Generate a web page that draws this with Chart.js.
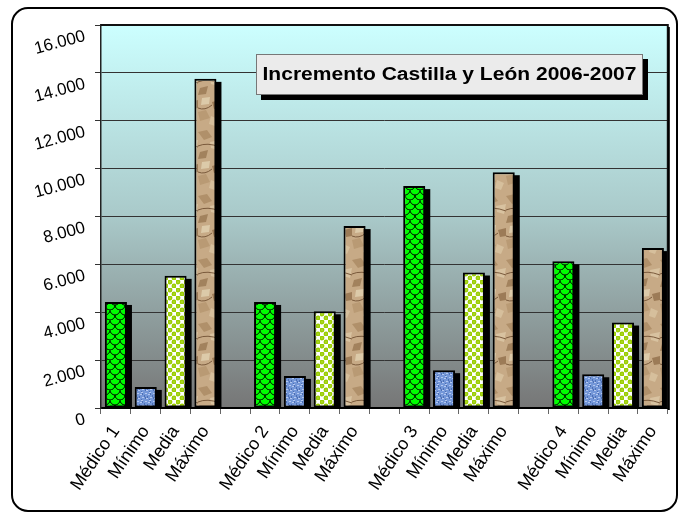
<!DOCTYPE html>
<html>
<head>
<meta charset="utf-8">
<script src="https://cdn.jsdelivr.net/npm/chart.js@4.4.1/dist/chart.umd.min.js"></script>
<style>
  html, body { margin: 0; padding: 0; background: #fff; }
  canvas { display: block; }
</style>
</head>
<body>
<canvas id="grafico" width="679" height="513"></canvas>
<script>
// datos
const medicos = ['Médico 1', 'Médico 2', 'Médico 3', 'Médico 4'];
const etiquetasSerie = ['Mínimo', 'Media', 'Máximo'];
const medico = [4430, 4430, 9270, 6130];
const minimo = [880, 1340, 1580, 1410];
const media = [5520, 4040, 5660, 3570];
const maximo = [13750, 7600, 9850, 6680];
const yTicks = [0, 2000, 4000, 6000, 8000, 10000, 12000, 14000, 16000];
const titulo = 'Incremento Castilla y León 2006-2007';

// texturas para las barras
function lienzo(w, h) {
  const c = document.createElement('canvas');
  c.width = w; c.height = h;
  return c;
}
const tmp = document.createElement('canvas').getContext('2d');

function patronMedico() {
  const c = lienzo(10, 10), g = c.getContext('2d');
  g.fillStyle = '#00ff00'; g.fillRect(0, 0, 10, 10);
  g.strokeStyle = '#000'; g.lineWidth = 1;
  g.beginPath(); g.arc(5, 0, 5, 0, Math.PI); g.stroke();
  g.beginPath(); g.arc(0, 5, 5, 0, Math.PI / 2); g.stroke();
  g.beginPath(); g.arc(10, 5, 5, Math.PI / 2, Math.PI); g.stroke();
  return tmp.createPattern(c, 'repeat');
}
function patronMinimo() {
  const c = lienzo(8, 8), g = c.getContext('2d');
  g.fillStyle = '#7497d8'; g.fillRect(0, 0, 8, 8);
  g.fillStyle = '#b4c8f0';
  [[1, 1], [4, 2], [6, 5], [2, 6], [5, 0]].forEach(p => g.fillRect(p[0], p[1], 2, 1));
  g.fillStyle = '#4d6fb4';
  [[0, 3], [3, 4], [6, 1], [5, 7], [1, 5]].forEach(p => g.fillRect(p[0], p[1], 1, 2));
  return tmp.createPattern(c, 'repeat');
}
function patronMedia() {
  const c = lienzo(8, 8), g = c.getContext('2d');
  g.fillStyle = '#ffffff'; g.fillRect(0, 0, 8, 8);
  g.fillStyle = '#99cc00';
  [[2, 2], [6, 6]].forEach(p => { g.beginPath(); g.arc(p[0], p[1], 2.4, 0, Math.PI * 2); g.fill(); });
  g.fillStyle = '#d8f080';
  [[1.5, 1.5], [5.5, 5.5]].forEach(p => g.fillRect(p[0], p[1], 1, 1));
  return tmp.createPattern(c, 'repeat');
}
function patronMaximo() {
  const c = lienzo(22, 64), g = c.getContext('2d');
  g.fillStyle = '#c7aa86'; g.fillRect(0, 0, 22, 64);
  const manchas = [
    ['#b0906a', [[0, 4], [9, 2], [14, 9], [6, 12]]],
    ['#d8c2a0', [[12, 14], [22, 12], [20, 22], [13, 20]]],
    ['#a2825d', [[2, 24], [10, 22], [8, 30], [0, 31]]],
    ['#dccaa9', [[4, 34], [12, 33], [11, 40], [3, 41]]],
    ['#9c7b57', [[14, 38], [22, 36], [22, 44], [16, 45]]],
    ['#b99a74', [[0, 48], [8, 46], [12, 54], [2, 57]]],
    ['#d6bf9c', [[13, 52], [20, 55], [17, 62], [11, 60]]]
  ];
  manchas.forEach(m => {
    g.fillStyle = m[0];
    g.beginPath();
    m[1].forEach((p, k) => k ? g.lineTo(p[0], p[1]) : g.moveTo(p[0], p[1]));
    g.closePath();
    g.fill();
  });
  g.strokeStyle = '#7a5a3c'; g.lineWidth = 1;
  g.beginPath(); g.moveTo(0, 18); g.quadraticCurveTo(9, 14, 22, 19); g.stroke();
  g.beginPath(); g.moveTo(0, 44); g.quadraticCurveTo(7, 47, 14, 41); g.stroke();
  return tmp.createPattern(c, 'repeat');
}
const fondos = [patronMedico(), patronMinimo(), patronMedia(), patronMaximo()];

// etiquetas y valores (un hueco vacío entre grupos)
const labels = [];
const valores = [];
const colores = [];
medicos.forEach((m, i) => {
  const grupo = [medico[i], minimo[i], media[i], maximo[i]];
  [m].concat(etiquetasSerie).forEach((lab, k) => {
    labels.push(lab);
    valores.push(grupo[k]);
    colores.push(fondos[k]);
  });
  if (i < medicos.length - 1) {
    labels.push('');
    valores.push(null);
    colores.push('transparent');
  }
});

const fondoGrafico = {
  id: 'fondoGrafico',
  beforeDraw(chart) {
    const { ctx, chartArea: a } = chart;
    const grad = ctx.createLinearGradient(0, a.top, 0, a.bottom);
    grad.addColorStop(0, '#ccffff');
    grad.addColorStop(0.5, '#a9c9c9');
    grad.addColorStop(1, '#767676');
    ctx.save();
    ctx.fillStyle = grad;
    ctx.fillRect(a.left, a.top, a.right - a.left, a.bottom - a.top);
    ctx.restore();
  },
  beforeDatasetsDraw(chart) {
    // sombra negra desplazada de cada barra
    const { ctx, chartArea: a } = chart;
    ctx.save();
    ctx.beginPath();
    ctx.rect(a.left, a.top, a.right - a.left, a.bottom - a.top);
    ctx.clip();
    ctx.fillStyle = '#000';
    chart.getDatasetMeta(0).data.forEach((bar, i) => {
      if (valores[i] == null) return;
      const p = bar.getProps(['x', 'y', 'base', 'width'], true);
      ctx.fillRect(p.x - p.width / 2 + 5, p.y + 3, p.width, p.base - p.y - 3);
    });
    ctx.restore();
  },
  afterDatasetsDraw(chart) {
    const { ctx, chartArea: a } = chart;
    ctx.save();
    ctx.strokeStyle = '#111';
    ctx.lineWidth = 2;
    ctx.beginPath();
    ctx.moveTo(a.left, a.top);
    ctx.lineTo(a.right, a.top);
    ctx.lineTo(a.right, a.bottom);
    ctx.stroke();
    ctx.fillStyle = '#000';
    ctx.fillRect(a.right, a.top + 2, 2, a.bottom - a.top);
    ctx.restore();
  },
  afterDraw(chart) {
    const ctx = chart.ctx;
    ctx.save();
    // recuadro del título
    const x = 256, y = 54, w = 387, h = 41;
    ctx.fillStyle = '#000';
    ctx.fillRect(x + 5, y + 5, w, h);
    ctx.fillStyle = '#ebebeb';
    ctx.fillRect(x, y, w, h);
    ctx.strokeStyle = '#777';
    ctx.lineWidth = 1;
    ctx.strokeRect(x + 0.5, y + 0.5, w - 1, h - 1);
    ctx.font = 'bold 17.5px "Liberation Sans", Arial, sans-serif';
    ctx.fillStyle = '#000';
    ctx.textBaseline = 'middle';
    const tw = ctx.measureText(titulo).width;
    ctx.translate(x + w / 2, y + h / 2 + 1);
    ctx.scale(374 / tw, 1);
    ctx.textAlign = 'center';
    ctx.fillText(titulo, 0, 0);
    ctx.restore();
    // borde redondeado exterior
    ctx.save();
    ctx.strokeStyle = '#000';
    ctx.lineWidth = 2;
    ctx.beginPath();
    ctx.roundRect(12, 8, 665, 503, 16);
    ctx.stroke();
    ctx.restore();
  }
};

new Chart(document.getElementById('grafico'), {
  type: 'bar',
  data: {
    labels: labels,
    datasets: [{
      data: valores,
      backgroundColor: colores,
      borderColor: '#000',
      borderWidth: 2,
      borderSkipped: false,
      categoryPercentage: 1,
      barPercentage: 0.74
    }]
  },
  options: {
    responsive: false,
    animation: false,
    devicePixelRatio: 1,
    layout: { padding: { left: 0, top: 25, right: 8, bottom: 0 } },
    plugins: {
      legend: { display: false },
      tooltip: { enabled: false },
      title: { display: false }
    },
    scales: {
      x: {
        afterFit(scale) { scale.height = 105; },
        grid: { display: true, drawOnChartArea: false, tickLength: 6, color: '#666', offset: true },
        border: { display: true, color: '#000', width: 2 },
        ticks: {
          autoSkip: false,
          minRotation: 56,
          maxRotation: 56,
          color: '#000',
          padding: 8,
          labelOffset: 0,
          font: { family: '"Liberation Sans", Arial, sans-serif', size: 18 }
        }
      },
      y: {
        min: 0,
        max: 16000,
        afterFit(scale) { scale.width = 101; },
        afterBuildTicks(scale) { scale.ticks = yTicks.map(v => ({ value: v })); },
        grid: { color: '#333', lineWidth: 1, tickLength: 6, tickColor: '#333' },
        border: { display: true, color: '#222', width: 1.5 },
        ticks: {
          minRotation: 15,
          maxRotation: 15,
          color: '#000',
          padding: 10,
          labelOffset: 11,
          font: { family: '"Liberation Sans", Arial, sans-serif', size: 17 },
          callback: v => v === 0 ? '0' : (v / 1000).toFixed(3)
        }
      }
    }
  },
  plugins: [fondoGrafico]
});
</script>
</body>
</html>
